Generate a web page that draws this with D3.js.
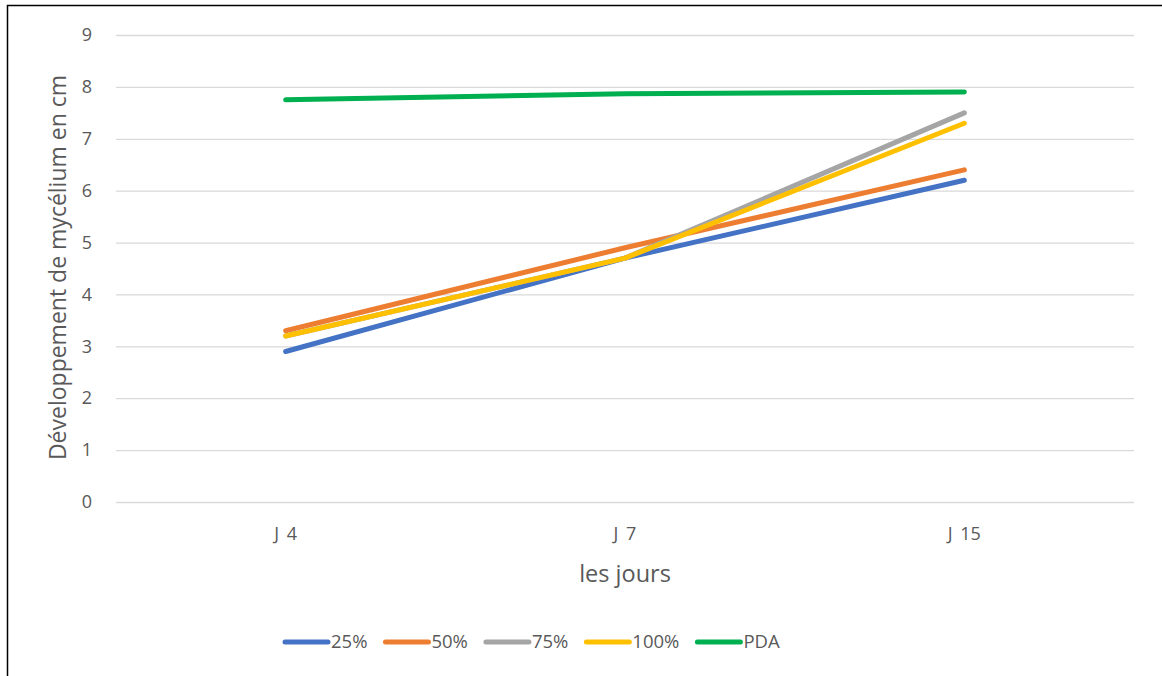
<!DOCTYPE html>
<html>
<head>
<meta charset="utf-8">
<script src="https://cdn.jsdelivr.net/npm/d3@7"></script>
<style>
  body { margin: 0; background: #fff; }
  svg text { font-family: 'Open Sans', sans-serif; fill: #595959; }
</style>
</head>
<body>
<div class="d3-wrapper"></div>
<script>
const categories = ['J 4', 'J 7', 'J 15'];
const seriesNames = ['25%', '50%', '75%', '100%', 'PDA'];
const colors = ['#4472c4', '#ed7d31', '#a5a5a5', '#ffc000', '#00b050'];
const values25 = [2.9, 4.7, 6.2];
const values50 = [3.3, 4.9, 6.4];
const values75 = [3.2, 4.7, 7.5];
const values100 = [3.2, 4.7, 7.3];
const valuesPDA = [7.75, 7.87, 7.9];
const yTicks = [0, 1, 2, 3, 4, 5, 6, 7, 8, 9];

const series = [values25, values50, values75, values100, valuesPDA]
  .map((v, i) => ({ name: seriesNames[i], color: colors[i], values: v }));

const WIDTH = 1162, HEIGHT = 676;
const MARGIN = { top: 35, left: 116, right: 28, bottom: 174 };
const INNER_WIDTH = WIDTH - MARGIN.left - MARGIN.right,
  INNER_HEIGHT = HEIGHT - MARGIN.top - MARGIN.bottom;

const svg = d3.select('.d3-wrapper').append('svg')
  .attr('width', WIDTH)
  .attr('height', HEIGHT);

// chart frame (cropped on right and bottom)
svg.append('path')
  .attr('d', 'M7.5,' + HEIGHT + 'V5.5H' + WIDTH)
  .attr('fill', 'none')
  .attr('stroke', '#000')
  .attr('stroke-width', 1.5);

const g = svg.append('g')
  .attr('transform', `translate(${MARGIN.left},${MARGIN.top})`);

const xScale = d3.scaleBand().domain(categories).range([0, INNER_WIDTH]);
const yScale = d3.scaleLinear().domain([0, 9]).range([INNER_HEIGHT, 0]);

const yAxis = d3.axisLeft(yScale).tickValues(yTicks)
  .tickSizeInner(-INNER_WIDTH).tickSizeOuter(0).tickPadding(24);
const yG = g.append('g').call(yAxis);
yG.select('.domain').remove();
yG.selectAll('line').attr('stroke', '#d9d9d9').attr('stroke-width', 1.3);
yG.selectAll('text').style('font-size', '18px').attr('fill', '#595959');

const xAxis = d3.axisBottom(xScale).tickSize(0).tickPadding(25);
const xG = g.append('g').attr('transform', `translate(0,${INNER_HEIGHT})`).call(xAxis);
xG.select('.domain').remove();
xG.selectAll('text').style('font-size', '18px').style('word-spacing', '3px').attr('fill', '#595959');

g.append('text')
  .attr('x', INNER_WIDTH / 2)
  .attr('y', INNER_HEIGHT + 80)
  .attr('text-anchor', 'middle')
  .style('font-size', '23.5px')
  .text('les jours');

g.append('text')
  .attr('transform', 'rotate(-90)')
  .attr('x', -INNER_HEIGHT / 2 + 1)
  .attr('y', -50)
  .attr('text-anchor', 'middle')
  .style('font-size', '23px')
  .text('Développement de mycélium en cm');

const line = d3.line()
  .x((d, i) => xScale(categories[i]) + xScale.bandwidth() / 2)
  .y(d => yScale(d));

g.selectAll('.series')
  .data(series)
  .enter().append('path')
  .attr('class', 'series')
  .attr('d', d => line(d.values))
  .attr('fill', 'none')
  .attr('stroke', d => d.color)
  .attr('stroke-width', 5)
  .attr('stroke-linecap', 'round')
  .attr('stroke-linejoin', 'round');

// legend
const legend = svg.append('g').attr('transform', 'translate(285,642)');
let lx = 0;
series.forEach(s => {
  const item = legend.append('g').attr('transform', `translate(${lx},0)`);
  item.append('line')
    .attr('x1', 0).attr('x2', 43)
    .attr('stroke', s.color)
    .attr('stroke-width', 5)
    .attr('stroke-linecap', 'round');
  const t = item.append('text')
    .attr('x', 46)
    .attr('dy', '0.35em')
    .style('font-size', '18.5px')
    .text(s.name);
  lx += 46 + t.node().getComputedTextLength() + 18;
});
</script>
</body>
</html>
